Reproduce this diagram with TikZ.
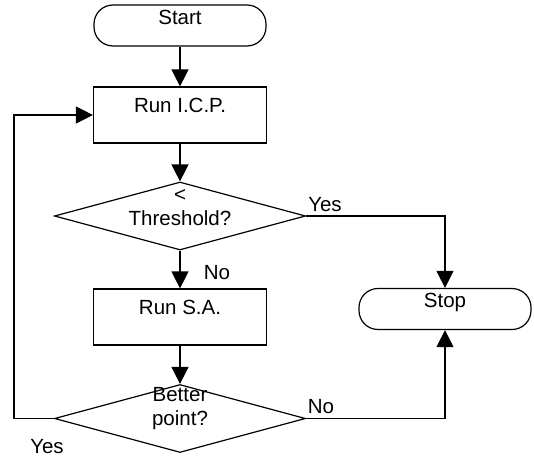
\documentclass[tikz,border=0pt]{standalone}
\usepackage{fontspec}
\setmainfont{Liberation Sans}
\usetikzlibrary{arrows.meta,shapes.geometric}

\begin{document}
\begin{tikzpicture}[x=1pt,y=-1pt,
    line width=1.2pt,
    font=\fontsize{20.5}{24}\selectfont,
    >={Triangle[length=17pt,width=17pt]},
    terminal/.style={draw,rounded corners=19pt,minimum width=172pt,minimum height=41pt,inner sep=1pt,text depth=17pt},
    process/.style={draw,minimum width=173pt,minimum height=56pt,inner sep=1pt,text depth=19pt},
    decision/.style={draw,diamond,minimum width=251pt,minimum height=68pt,inner sep=0pt},
    txt/.style={inner sep=0pt,align=center}]
    \useasboundingbox (0,0) rectangle (534,457);

    \node[terminal] (start) at (180,25.5) {Start};
    \node[process] (icp) at (180,115) {Run I.C.P.};
    \node[decision] (thr) at (180,216) {};
    \node[txt] (thrtext) at (180,208) {<\\Threshold?};
    \node[process] (sa) at (180,317) {Run S.A.};
    \node[decision] (better) at (180,418.5) {};
    \node[txt] (bettertext) at (180,409) {Better\\point?};
    \node[terminal] (stop) at (445,309) {Stop};
    \coordinate (loop) at (14,418.5);

    \node[txt,anchor=base] (yes1) at (325,211) {Yes};
    \node[txt,anchor=base] (no1) at (217,279) {No};
    \node[txt,anchor=base] (no2) at (321,413) {No};
    \node[txt,anchor=base] (yes2) at (47,453) {Yes};

    \draw[->] (start) -- (icp);
    \draw[->] (icp) -- (thr);
    \draw[->] (thr) -- (sa);
    \draw[->] (sa) -- (better);
    \draw[->] (thr.east) -| (stop.north);
    \draw[->] (better.east) -| (stop.south);
    \draw[->] (better.west) -- (loop) |- (icp.west);
  \end{tikzpicture}
\end{document}
